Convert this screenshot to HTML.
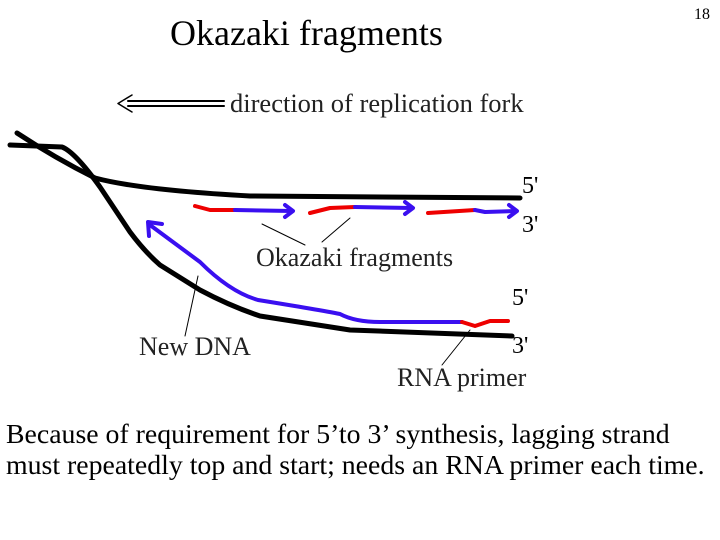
<!DOCTYPE html>
<html><head><style>
body{margin:0;width:720px;height:540px;background:#fff;overflow:hidden;position:relative;font-family:"Liberation Serif",serif;}
.t{position:absolute;white-space:nowrap;color:#000;}
</style></head><body>
<div class="t" style="left:170px;top:12px;font-size:36px;">Okazaki fragments</div>
<div class="t" style="left:694px;top:6px;font-size:16px;">18</div>
<svg width="720" height="540" style="position:absolute;left:0;top:0" fill="none" stroke-linecap="round" stroke-linejoin="round">
<g stroke="#000" stroke-width="2"><line x1="128" y1="101" x2="224" y2="101"/><line x1="128" y1="106" x2="224" y2="106"/><polyline points="132,95 118,103.5 132,112" stroke-width="1.5"/></g>
<g stroke="#000" stroke-width="5">
<path d="M17,133 Q55,158 95,178 Q140,190 250,196 L520,198"/>
<path d="M10,145 L62,147 Q75,152 100,187 L130,232 Q145,252 160,265 L200,290 Q230,306 260,316 L350,330 L512,336"/>
</g>
<g stroke-width="4">
<path d="M195,206 L210,210 L235,210" stroke="#e00"/>
<path d="M235,210 L292,211" stroke="#3a0ff0"/><polyline points="285,205 293,211 285,217" stroke="#3a0ff0"/>
<path d="M310,213 L330,208 L355,207" stroke="#e00"/>
<path d="M355,207 L412,208" stroke="#3a0ff0"/><polyline points="405,202 413,208 405,214" stroke="#3a0ff0"/>
<path d="M428,213 L475,210" stroke="#e00"/>
<path d="M475,210 L485,212 L516,211" stroke="#3a0ff0"/><polyline points="509,205 517,211 509,217" stroke="#3a0ff0"/>
<path d="M150,225 L200,262 Q230,292 258,300 Q320,310 340,314 Q355,322 380,322 L462,322" stroke="#3a0ff0"/>
<polyline points="149,236 148,222 162,224" stroke="#3a0ff0"/>
<path d="M462,322 L475,326 L490,321 L508,321" stroke="#e00"/>
</g>
<g stroke="#000" stroke-width="1">
<line x1="262" y1="224" x2="305" y2="245"/><line x1="350" y1="218" x2="322" y2="242"/>
<line x1="198" y1="276" x2="185" y2="336"/><line x1="470" y1="330" x2="442" y2="365"/>
</g>
</svg>
<div class="t" style="left:230px;top:88px;font-size:26.5px;color:#222;">direction of replication fork</div>
<div class="t" style="left:522px;top:173px;font-size:24px;">5'</div>
<div class="t" style="left:522px;top:212px;font-size:24px;">3'</div>
<div class="t" style="left:256px;top:243px;font-size:26px;color:#222;">Okazaki fragments</div>
<div class="t" style="left:512px;top:285px;font-size:24px;">5'</div>
<div class="t" style="left:512px;top:333px;font-size:24px;">3'</div>
<div class="t" style="left:139px;top:332px;font-size:26px;color:#222;">New DNA</div>
<div class="t" style="left:397px;top:363px;font-size:26px;color:#222;">RNA primer</div>
<div class="t" style="left:6px;top:419px;font-size:27.8px;line-height:31px;">Because of requirement for 5’to 3’ synthesis, lagging strand<br>must repeatedly top and start; needs an RNA primer each time.</div>
</body></html>
